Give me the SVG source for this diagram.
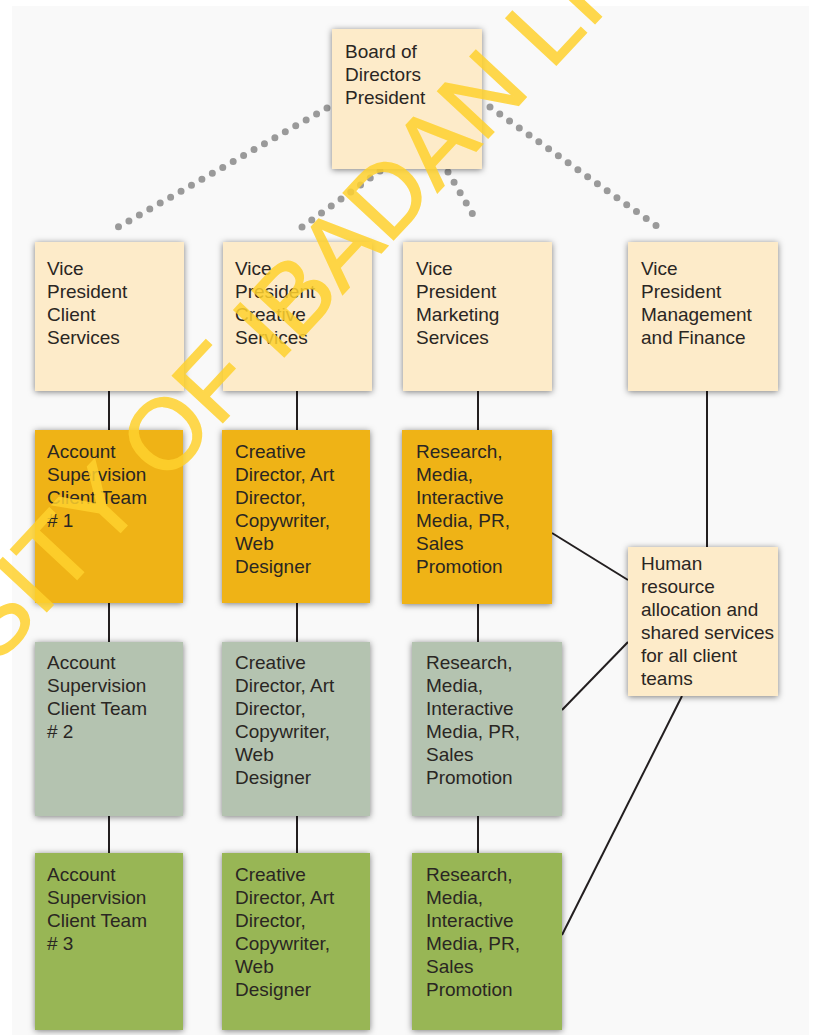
<svg xmlns="http://www.w3.org/2000/svg" width="821" height="1035" viewBox="0 0 821 1035">
<defs>
<filter id="sh" x="-20%" y="-20%" width="140%" height="140%">
<feDropShadow dx="0" dy="1" stdDeviation="3" flood-color="#000" flood-opacity="0.5"/>
</filter>
<style>
.box{filter:url(#sh);}
.cream{fill:#fdebc9;}
.yel{fill:#efb317;}
.gray{fill:#b4c3b0;}
.green{fill:#98b655;}
.t{font-family:"Liberation Sans",Arial,sans-serif;font-size:19px;fill:#2a2623;}
.dot{stroke:#9a9a9a;stroke-width:7;stroke-linecap:round;stroke-dasharray:0 12;fill:none;}
.ln{stroke:#231f20;stroke-width:2;fill:none;}
.wm{font-family:"Liberation Sans",Arial,sans-serif;font-size:100px;fill:#ffd22e;stroke:#ffd22e;stroke-width:1.5;opacity:0.85;}
</style>
</defs>
<rect x="0" y="0" width="821" height="1035" fill="#ffffff"/>
<rect x="12" y="6" width="797" height="1029" fill="#f9f9f9"/>

<g id="connectors">
<line class="dot" x1="327" y1="108" x2="113" y2="230"/>
<line class="dot" x1="380" y1="171" x2="302" y2="227"/>
<line class="dot" x1="448" y1="172" x2="475" y2="218"/>
<line class="dot" x1="490" y1="107" x2="658" y2="227"/>
<line class="ln" x1="109" y1="391" x2="109" y2="430"/>
<line class="ln" x1="109" y1="603" x2="109" y2="642"/>
<line class="ln" x1="109" y1="816" x2="109" y2="853"/>
<line class="ln" x1="297" y1="391" x2="297" y2="430"/>
<line class="ln" x1="297" y1="603" x2="297" y2="642"/>
<line class="ln" x1="297" y1="816" x2="297" y2="853"/>
<line class="ln" x1="478" y1="391" x2="478" y2="430"/>
<line class="ln" x1="478" y1="604" x2="478" y2="642"/>
<line class="ln" x1="478" y1="816" x2="478" y2="853"/>
<line class="ln" x1="707" y1="391" x2="707" y2="547"/>
<line class="ln" x1="552" y1="533" x2="628" y2="580"/>
<line class="ln" x1="562" y1="710" x2="628" y2="642"/>
<line class="ln" x1="562" y1="935" x2="682" y2="696"/>
</g>

<g id="board">
<rect class="box cream" x="332" y="29" width="150" height="140"/>
<text class="t"><tspan x="345" y="58">Board of</tspan><tspan x="345" y="81">Directors</tspan><tspan x="345" y="104">President</tspan></text>
</g>

<g id="vp-client">
<rect class="box cream" x="35" y="242" width="149" height="149"/>
<text class="t"><tspan x="47" y="275">Vice</tspan><tspan x="47" y="298">President</tspan><tspan x="47" y="321">Client</tspan><tspan x="47" y="344">Services</tspan></text>
</g>
<g id="vp-creative">
<rect class="box cream" x="223" y="242" width="149" height="149"/>
<text class="t"><tspan x="235" y="275">Vice</tspan><tspan x="235" y="298">President</tspan><tspan x="235" y="321">Creative</tspan><tspan x="235" y="344">Services</tspan></text>
</g>
<g id="vp-marketing">
<rect class="box cream" x="403" y="242" width="149" height="149"/>
<text class="t"><tspan x="416" y="275">Vice</tspan><tspan x="416" y="298">President</tspan><tspan x="416" y="321">Marketing</tspan><tspan x="416" y="344">Services</tspan></text>
</g>
<g id="vp-management">
<rect class="box cream" x="628" y="242" width="150" height="149"/>
<text class="t"><tspan x="641" y="275">Vice</tspan><tspan x="641" y="298">President</tspan><tspan x="641" y="321">Management</tspan><tspan x="641" y="344">and Finance</tspan></text>
</g>

<g id="team1-account">
<rect class="box yel" x="35" y="430" width="148" height="173"/>
<text class="t"><tspan x="47" y="458">Account</tspan><tspan x="47" y="481">Supervision</tspan><tspan x="47" y="504">Client Team</tspan><tspan x="47" y="527"># 1</tspan></text>
</g>
<g id="team1-creative">
<rect class="box yel" x="222" y="430" width="148" height="173"/>
<text class="t"><tspan x="235" y="458">Creative</tspan><tspan x="235" y="481">Director, Art</tspan><tspan x="235" y="504">Director,</tspan><tspan x="235" y="527">Copywriter,</tspan><tspan x="235" y="550">Web</tspan><tspan x="235" y="573">Designer</tspan></text>
</g>
<g id="team1-research">
<rect class="box yel" x="402" y="430" width="150" height="174"/>
<text class="t"><tspan x="416" y="458">Research,</tspan><tspan x="416" y="481">Media,</tspan><tspan x="416" y="504">Interactive</tspan><tspan x="416" y="527">Media, PR,</tspan><tspan x="416" y="550">Sales</tspan><tspan x="416" y="573">Promotion</tspan></text>
</g>

<g id="team2-account">
<rect class="box gray" x="35" y="642" width="148" height="174"/>
<text class="t"><tspan x="47" y="669">Account</tspan><tspan x="47" y="692">Supervision</tspan><tspan x="47" y="715">Client Team</tspan><tspan x="47" y="738"># 2</tspan></text>
</g>
<g id="team2-creative">
<rect class="box gray" x="222" y="642" width="148" height="174"/>
<text class="t"><tspan x="235" y="669">Creative</tspan><tspan x="235" y="692">Director, Art</tspan><tspan x="235" y="715">Director,</tspan><tspan x="235" y="738">Copywriter,</tspan><tspan x="235" y="761">Web</tspan><tspan x="235" y="784">Designer</tspan></text>
</g>
<g id="team2-research">
<rect class="box gray" x="412" y="642" width="150" height="174"/>
<text class="t"><tspan x="426" y="669">Research,</tspan><tspan x="426" y="692">Media,</tspan><tspan x="426" y="715">Interactive</tspan><tspan x="426" y="738">Media, PR,</tspan><tspan x="426" y="761">Sales</tspan><tspan x="426" y="784">Promotion</tspan></text>
</g>

<g id="team3-account">
<rect class="box green" x="35" y="853" width="148" height="177"/>
<text class="t"><tspan x="47" y="881">Account</tspan><tspan x="47" y="904">Supervision</tspan><tspan x="47" y="927">Client Team</tspan><tspan x="47" y="950"># 3</tspan></text>
</g>
<g id="team3-creative">
<rect class="box green" x="222" y="853" width="148" height="177"/>
<text class="t"><tspan x="235" y="881">Creative</tspan><tspan x="235" y="904">Director, Art</tspan><tspan x="235" y="927">Director,</tspan><tspan x="235" y="950">Copywriter,</tspan><tspan x="235" y="973">Web</tspan><tspan x="235" y="996">Designer</tspan></text>
</g>
<g id="team3-research">
<rect class="box green" x="412" y="853" width="150" height="177"/>
<text class="t"><tspan x="426" y="881">Research,</tspan><tspan x="426" y="904">Media,</tspan><tspan x="426" y="927">Interactive</tspan><tspan x="426" y="950">Media, PR,</tspan><tspan x="426" y="973">Sales</tspan><tspan x="426" y="996">Promotion</tspan></text>
</g>

<g id="hr-shared">
<rect class="box cream" x="628" y="547" width="150" height="149"/>
<text class="t"><tspan x="641" y="570">Human</tspan><tspan x="641" y="593">resource</tspan><tspan x="641" y="616">allocation and</tspan><tspan x="641" y="639">shared services</tspan><tspan x="641" y="662">for all client</tspan><tspan x="641" y="685">teams</tspan></text>
</g>

<g id="watermark">
<text class="wm" transform="translate(-5,667) rotate(-47)" x="0" y="0">SITY OF IBADAN LI</text>
</g>
</svg>
